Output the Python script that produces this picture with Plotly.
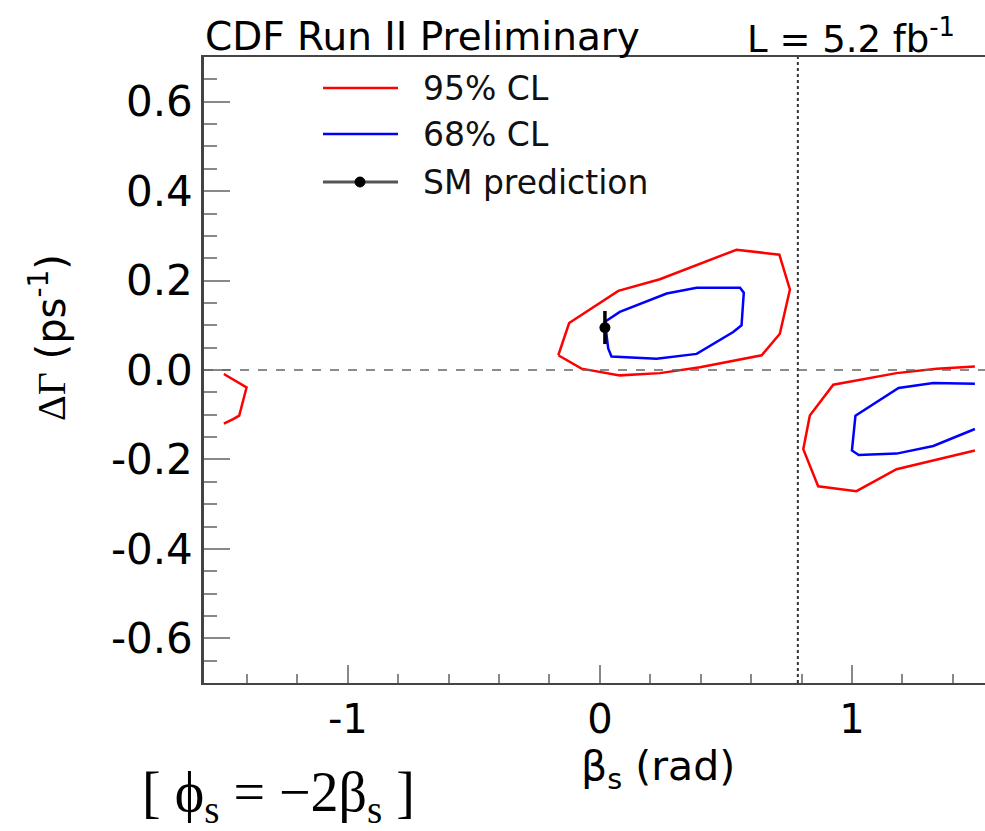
import math
import plotly.graph_objects as go

# ---- data ----
red_main_x = [-0.165, -0.122, 0.073, 0.238, 0.542, 0.712, 0.754, 0.714, 0.642, 0.397, 0.238, 0.079, -0.073, -0.165]
red_main_y = [0.033, 0.105, 0.177, 0.203, 0.269, 0.258, 0.180, 0.081, 0.033, 0.006, -0.007, -0.012, 0.003, 0.033]

blue_main_x = [0.020, 0.079, 0.265, 0.384, 0.556, 0.571, 0.562, 0.529, 0.384, 0.225, 0.046, 0.033, 0.020]
blue_main_y = [0.108, 0.130, 0.171, 0.184, 0.184, 0.173, 0.100, 0.085, 0.036, 0.025, 0.030, 0.048, 0.108]

red_right_x = [1.488, 1.336, 1.177, 0.926, 0.833, 0.807, 0.866, 1.018, 1.177, 1.488]
red_right_y = [0.008, 0.003, -0.007, -0.033, -0.102, -0.177, -0.260, -0.271, -0.222, -0.180]

blue_right_x = [1.488, 1.323, 1.185, 1.014, 1.000, 1.027, 1.177, 1.323, 1.488]
blue_right_y = [-0.031, -0.029, -0.040, -0.102, -0.180, -0.190, -0.187, -0.170, -0.132]

red_left_x = [-1.492, -1.402, -1.431, -1.455, -1.492]
red_left_y = [-0.009, -0.039, -0.102, -0.110, -0.120]

sm_beta = [0.02]
sm_dgamma = [0.095]
sm_err = [0.037]

vline_x = math.pi / 4
hline_y = 0.0

x_ticks = [-1, 0, 1]
x_tick_text = ["-1", "0", "1"]
y_ticks = [0.6, 0.4, 0.2, 0.0, -0.2, -0.4, -0.6]
y_tick_text = ["0.6", "0.4", "0.2", "0.0", "-0.2", "-0.4", "-0.6"]

x_range = [-math.pi / 2, 1.528]
y_range = [-0.7, 0.7]

SANS = "DejaVu Sans"
SERIF = "Liberation Serif"

fig = go.Figure()

line_w = 2.5
for xs, ys, col in [
    (red_main_x, red_main_y, "#ff0000"),
    (blue_main_x, blue_main_y, "#0000ff"),
    (red_right_x, red_right_y, "#ff0000"),
    (blue_right_x, blue_right_y, "#0000ff"),
    (red_left_x, red_left_y, "#ff0000"),
]:
    fig.add_trace(go.Scatter(x=xs, y=ys, mode="lines",
                             line=dict(color=col, width=line_w),
                             showlegend=False, hoverinfo="skip"))

fig.add_trace(go.Scatter(
    x=sm_beta, y=sm_dgamma, mode="markers",
    marker=dict(color="black", size=11),
    error_y=dict(type="data", array=sm_err, color="black", thickness=3.5, width=0),
    showlegend=False))

shapes = [
    dict(type="line", xref="x", yref="paper", x0=vline_x, x1=vline_x, y0=0, y1=1,
         line=dict(color="#333333", width=2, dash="dot")),
    dict(type="line", xref="paper", yref="y", x0=0, x1=1, y0=hline_y, y1=hline_y,
         line=dict(color="#666666", width=1.5, dash="dash")),
]

# manual legend (paper coords)
def px2paper_x(px):
    return (px - 204) / 781.0

def py2paper_y(py):
    return (683 - py) / 626.0

legend_items = [("95% CL", "#ff0000", 88, False),
                ("68% CL", "#0000ff", 134, False),
                ("SM prediction", "#555555", 182, True)]
annotations = []
for label, col, py, dot in legend_items:
    shapes.append(dict(type="line", xref="paper", yref="paper",
                       x0=px2paper_x(323), x1=px2paper_x(398),
                       y0=py2paper_y(py), y1=py2paper_y(py),
                       line=dict(color=col, width=2.5 if not dot else 3)))
    if dot:
        shapes.append(dict(type="circle", xref="paper", yref="paper",
                           x0=px2paper_x(355), x1=px2paper_x(365),
                           y0=py2paper_y(187), y1=py2paper_y(177),
                           fillcolor="black", line=dict(color="black", width=1)))
    annotations.append(dict(xref="paper", yref="paper", x=px2paper_x(421), y=py2paper_y(py),
                            text=label, showarrow=False, xanchor="left", yanchor="middle",
                            font=dict(family=SANS, size=33, color="#111111")))

annotations += [
    dict(xref="paper", yref="paper", x=px2paper_x(203), y=py2paper_y(36),
         text="CDF Run II Preliminary", showarrow=False, xanchor="left", yanchor="middle",
         font=dict(family=SANS, size=39, color="black")),
    dict(xref="paper", yref="paper", x=px2paper_x(957), y=py2paper_y(36),
         text="L = 5.2 fb<sup>-1</sup>", showarrow=False, xanchor="right", yanchor="middle",
         font=dict(family=SANS, size=37, color="black")),
    dict(xref="paper", yref="paper", x=px2paper_x(658), y=py2paper_y(769),
         text="β<sub>s</sub> (rad)", showarrow=False, xanchor="center", yanchor="middle",
         font=dict(family=SANS, size=41, color="black")),
    dict(xref="paper", yref="paper", x=px2paper_x(48), y=py2paper_y(338),
         text="<span style='font-family:Liberation Serif'>ΔΓ</span> (ps<sup>-1</sup>)",
         showarrow=False, xanchor="center", yanchor="middle", textangle=-90,
         font=dict(family=SANS, size=40, color="black")),
    dict(xref="paper", yref="paper", x=px2paper_x(140), y=py2paper_y(796),
         text="[ ϕ<sub>s</sub> = −2β<sub>s</sub> ]", showarrow=False,
         xanchor="left", yanchor="middle",
         font=dict(family=SERIF, size=56, color="black")),
]

fig.update_layout(
    width=985, height=831,
    margin=dict(l=204, r=0, t=57, b=148, pad=0),
    paper_bgcolor="white", plot_bgcolor="white",
    shapes=shapes, annotations=annotations,
    xaxis=dict(range=x_range, showgrid=False, zeroline=False,
               showline=True, linecolor="#444444", linewidth=2, mirror=True,
               ticks="inside", ticklen=18, tickwidth=1.5, tickcolor="#888888",
               tickvals=x_ticks, ticktext=x_tick_text,
               tickfont=dict(family=SANS, size=40, color="black"),
               minor=dict(dtick=0.2, tick0=0, ticks="inside", ticklen=9,
                          tickwidth=1.5, tickcolor="#888888", showgrid=False)),
    yaxis=dict(range=y_range, showgrid=False, zeroline=False,
               showline=True, linecolor="#444444", linewidth=2.5, mirror=False,
               ticks="inside", ticklen=26, tickwidth=1.5, tickcolor="#888888",
               tickvals=y_ticks, ticktext=y_tick_text,
               tickfont=dict(family=SANS, size=42, color="black"),
               minor=dict(dtick=0.05, tick0=0, ticks="inside", ticklen=13,
                          tickwidth=1.5, tickcolor="#888888", showgrid=False)),
)

fig.write_html("out.html")
